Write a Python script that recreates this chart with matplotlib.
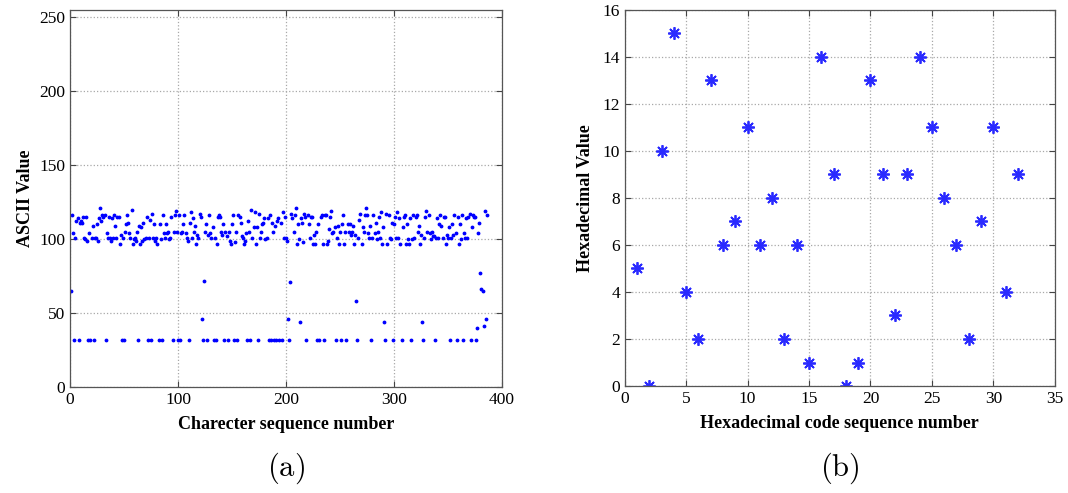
import numpy as np
import matplotlib
matplotlib.use("Agg")
import matplotlib.pyplot as plt

plt.rcParams['font.family'] = ['Liberation Serif', 'DejaVu Serif']
plt.rcParams['mathtext.fontset'] = 'cm'

# (a) ASCII values of the message, character by character
n_chars = 386
space_pos = [4, 8, 17, 19, 22, 33, 48, 50, 63, 72, 75, 82, 85, 95, 100, 102, 110,
             123, 127, 133, 135, 143, 146, 152, 155, 164, 167, 174, 184, 186, 189,
             191, 194, 196, 203, 219, 229, 231, 235, 246, 251, 256, 266, 279, 292,
             299, 307, 316, 327, 338, 352, 358, 364, 371, 376]
special_pos = [1, 122, 124, 202, 204, 213, 265, 291, 326, 377, 380, 381, 382, 383, 385]
special_val = [65, 46, 72, 46, 71, 44, 58, 44, 44, 40, 77, 66, 65, 41, 46]
letter_vals = [
    116, 104, 101, 112, 114, 111, 112, 111, 115, 101, 100, 115, 99, 104, 101, 109, 101, 101, 110, 99,
    114, 121, 112, 116, 115, 116, 104, 101, 115, 101, 99, 114, 101, 116, 109, 101, 115, 115, 97, 103,
    101, 105, 110, 116, 111, 104, 101, 120, 97, 100, 101, 99, 105, 109, 97, 108, 99, 111, 100, 101,
    115, 101, 113, 117, 101, 110, 99, 101, 97, 110, 100, 116, 104, 101, 110, 104, 105, 100, 101, 115,
    105, 116, 119, 105, 116, 104, 105, 110, 116, 104, 101, 99, 111, 118, 101, 114, 105, 109, 97, 103,
    101, 117, 115, 105, 110, 103, 116, 104, 101, 108, 101, 97, 115, 116, 115, 105, 103, 110, 105, 102,
    105, 99, 97, 110, 116, 98, 105, 116, 115, 111, 102, 101, 97, 99, 104, 112, 105, 120, 101, 108,
    118, 97, 108, 117, 101, 105, 110, 111, 114, 100, 101, 114, 116, 111, 105, 109, 112, 114, 111, 118,
    101, 115, 101, 99, 117, 114, 105, 116, 121, 97, 110, 100, 114, 111, 98, 117, 115, 116, 110, 101,
    115, 115, 97, 103, 97, 105, 110, 115, 116, 97, 116, 116, 97, 99, 107, 115, 119, 104, 105, 108,
    101, 109, 97, 105, 110, 116, 97, 105, 110, 105, 110, 103, 105, 109, 97, 103, 101, 113, 117, 97,
    108, 105, 116, 121, 116, 104, 101, 109, 101, 116, 104, 111, 100, 105, 115, 101, 118, 97, 108, 117,
    97, 116, 101, 100, 111, 110, 115, 101, 118, 101, 114, 97, 108, 115, 116, 97, 110, 100, 97, 114,
    100, 116, 101, 115, 116, 105, 109, 97, 103, 101, 115, 119, 105, 116, 104, 100, 105, 102, 102, 101,
    114, 101, 110, 116, 109, 101, 115, 115, 97, 103, 101, 108, 101, 110, 103, 116, 104, 115, 97, 110,
    100, 116, 104, 101, 114, 101, 115, 117, 108, 116, 115, 115, 104, 111, 119, 116, 104, 97, 116, 116,
]

# (b) hexadecimal code sequence
hex_vals = [5, 0, 10, 15, 4, 2, 13, 6, 7, 11, 6, 8, 2, 6, 1, 14,
            9, 0, 1, 13, 9, 3, 9, 14, 11, 8, 6, 2, 7, 11, 4, 9]

# build the character sequence
ascii_vals = []
letters = iter(letter_vals)
specials = dict(zip(special_pos, special_val))
for i in range(1, n_chars + 1):
    if i in specials:
        ascii_vals.append(specials[i])
    elif i in space_pos:
        ascii_vals.append(32)
    else:
        ascii_vals.append(next(letters))
seq_a = np.arange(1, n_chars + 1)
seq_b = np.arange(1, len(hex_vals) + 1)

fig = plt.figure(figsize=(10.68, 4.93), dpi=100)
ax1 = fig.add_axes([0.0655, 0.215, 0.4045, 0.765])
ax2 = fig.add_axes([0.585, 0.217, 0.4026, 0.763])


def style_axes(ax):
    ax.grid(True, linestyle=':', color='#a8a8a8', linewidth=0.9)
    ax.set_axisbelow(True)
    ax.tick_params(direction='in', top=True, right=True, labelsize=12.5,
                   length=4, color='#444444')
    for s in ax.spines.values():
        s.set_color('#555555')
        s.set_linewidth(0.9)


ax1.plot(seq_a, ascii_vals, '.', color='#0000ff', markersize=3.5)
ax1.set_xlim(0, 400)
ax1.set_ylim(0, 255)
ax1.set_xticks(range(0, 401, 100))
ax1.set_yticks(range(0, 251, 50))
ax1.set_xlabel('Charecter sequence number', fontsize=13, fontweight='bold', labelpad=6)
ax1.set_ylabel('ASCII Value', fontsize=13, fontweight='bold', labelpad=4)
style_axes(ax1)

# MATLAB-style asterisk (plus and cross together)
ax2.plot(seq_b, hex_vals, linestyle='none', marker=(8, 2, 0), color='#2a2aff',
         markersize=9, markeredgewidth=1.3)
ax2.set_xlim(0, 35)
ax2.set_ylim(0, 16)
ax2.set_xticks(range(0, 36, 5))
ax2.set_yticks(range(0, 17, 2))
ax2.set_xlabel('Hexadecimal code sequence number', fontsize=13, fontweight='bold', labelpad=6)
ax2.set_ylabel('Hexadecimal Value', fontsize=13, fontweight='bold', labelpad=6)
style_axes(ax2)

fig.text(0.268, 0.05, r'$(\mathrm{a})$', fontsize=22, ha='center', va='center')
fig.text(0.786, 0.05, r'$(\mathrm{b})$', fontsize=22, ha='center', va='center')

fig.savefig('out.png', dpi=100)
